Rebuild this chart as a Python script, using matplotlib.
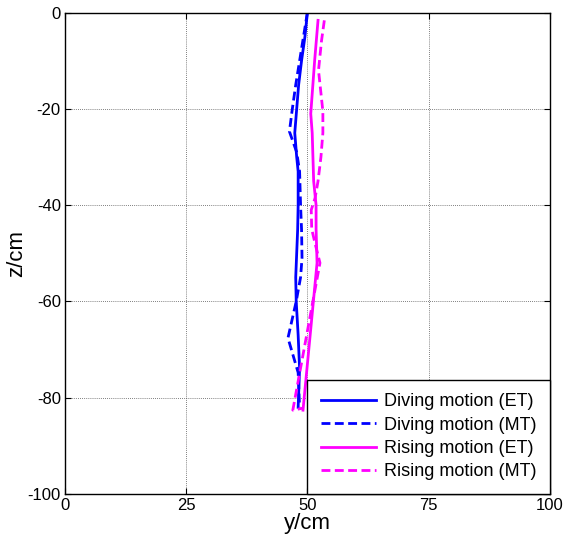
import matplotlib.pyplot as plt
import numpy as np

plt.rcParams['font.family'] = ['Liberation Sans', 'DejaVu Sans']
plt.rcParams['axes.unicode_minus'] = False

# depth positions (cm) and lateral position y (cm) for each trajectory
z_dive_et = [0, -5, -10, -15, -20, -25, -30, -33, -40, -45, -50, -55, -60, -67, -74, -82]
y_dive_et = [50.0, 49.5, 48.8, 48.2, 47.8, 47.4, 47.8, 48.1, 48.1, 48.0, 47.8, 47.6, 47.7, 48.1, 48.4, 48.1]

z_dive_mt = [0, -5, -10, -15, -20, -24.7, -29, -33, -40, -45, -51, -55, -60, -67.6, -74.8, -82]
y_dive_mt = [50.0, 49.2, 48.4, 47.6, 46.9, 46.3, 47.8, 48.4, 48.6, 48.8, 48.9, 48.6, 47.7, 46.0, 48.1, 48.4]

z_rise_et = [-1.6, -10, -21, -25, -35, -40, -45, -52, -82.6]
y_rise_et = [52.2, 51.5, 50.7, 51.0, 51.3, 51.8, 51.8, 52.0, 49.1]

z_rise_mt = [-1.6, -6, -12, -20.5, -25, -30, -35, -38.5, -41, -45, -48, -52, -82.6, -82.2]
y_rise_mt = [53.5, 52.9, 52.3, 53.2, 53.2, 52.8, 52.2, 51.6, 50.8, 50.9, 51.6, 52.6, 47.0, 49.0]

labels = ['Diving motion (ET)', 'Diving motion (MT)', 'Rising motion (ET)', 'Rising motion (MT)']

fig = plt.figure(figsize=(5.65, 5.5), dpi=100)
ax = fig.add_axes([0.115, 0.102, 0.858, 0.875])

dash = (0, (3.2, 1.6))
ax.plot(y_dive_et, z_dive_et, color='#0000ff', lw=2, label=labels[0])
ax.plot(y_dive_mt, z_dive_mt, color='#0000ff', lw=2, ls=dash, label=labels[1])
ax.plot(y_rise_et, z_rise_et, color='#ff00ff', lw=2, label=labels[2])
ax.plot(y_rise_mt, z_rise_mt, color='#ff00ff', lw=2, ls=dash, label=labels[3])

ax.set_xlim(0, 100)
ax.set_ylim(-100, 0)
ax.set_xticks([0, 25, 50, 75, 100])
ax.set_yticks(np.arange(-100, 1, 20))
ax.tick_params(direction='in', top=True, right=True, length=4, width=0.8, labelsize=12, pad=3)
ax.grid(True, color='#555555', linestyle=(0, (1, 1.5)), linewidth=0.6)
for s in ax.spines.values():
    s.set_linewidth(1.0)

ax.set_xlabel('y/cm', fontsize=16, labelpad=0)
ax.set_ylabel('z/cm', fontsize=16, labelpad=0)

leg = ax.legend(loc='lower right', fontsize=13, borderaxespad=0, fancybox=False,
                framealpha=1, edgecolor='black', handlelength=3.1, handletextpad=0.4,
                labelspacing=0.35, borderpad=0.75)
leg.get_frame().set_linewidth(1.0)

fig.savefig('out.png', dpi=100)
